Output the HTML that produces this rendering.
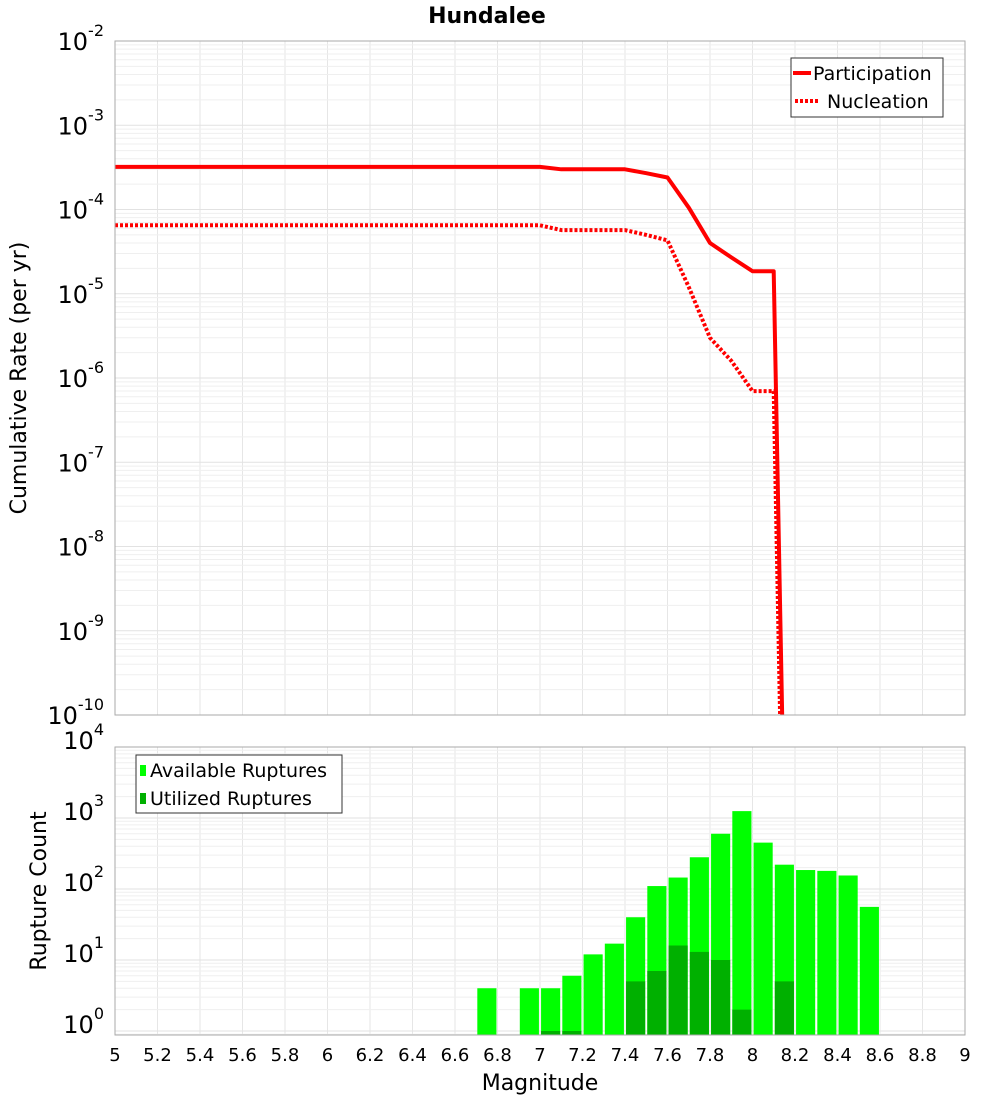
<!DOCTYPE html>
<html><head><meta charset="utf-8"><style>
html,body{margin:0;padding:0;background:#fff;width:1000px;height:1100px;overflow:hidden;}
svg{display:block;font-family:"DejaVu Sans","Liberation Sans",sans-serif;}
</style></head><body>
<svg id="chart" width="1000" height="1100" viewBox="0 0 1000 1100" xmlns="http://www.w3.org/2000/svg">
<text x="487" y="23" text-anchor="middle" font-size="22" font-weight="bold">Hundalee</text>
<g id="topg"></g>
<g id="botg"></g>
</svg>
<script>
const mags = [5.0,5.1,5.2,5.3,5.4,5.5,5.6,5.7,5.8,5.9,6.0,6.1,6.2,6.3,6.4,6.5,6.6,6.7,6.8,6.9,7.0,7.1,7.2,7.3,7.4,7.5,7.6,7.7,7.8,7.9,8.0,8.1,8.2];
const participation = [3.2e-4,3.2e-4,3.2e-4,3.2e-4,3.2e-4,3.2e-4,3.2e-4,3.2e-4,3.2e-4,3.2e-4,3.2e-4,3.2e-4,3.2e-4,3.2e-4,3.2e-4,3.2e-4,3.2e-4,3.2e-4,3.2e-4,3.2e-4,3.2e-4,3.0e-4,3.0e-4,3.0e-4,3.0e-4,2.7e-4,2.4e-4,1.05e-4,4.0e-5,2.7e-5,1.85e-5,1.85e-5,1e-18];
const nucleation = [6.5e-5,6.5e-5,6.5e-5,6.5e-5,6.5e-5,6.5e-5,6.5e-5,6.5e-5,6.5e-5,6.5e-5,6.5e-5,6.5e-5,6.5e-5,6.5e-5,6.5e-5,6.5e-5,6.5e-5,6.5e-5,6.5e-5,6.5e-5,6.5e-5,5.7e-5,5.7e-5,5.7e-5,5.7e-5,5.0e-5,4.3e-5,1.2e-5,3.0e-6,1.6e-6,7.0e-7,7.0e-7,1e-19];
const binCenters = [6.75,6.95,7.05,7.15,7.25,7.35,7.45,7.55,7.65,7.75,7.85,7.95,8.05,8.15,8.25,8.35,8.45,8.55];
const available = [4,4,4,6,12,17,40,110,145,280,600,1250,450,220,185,180,155,56];
const utilized = [0,0,1,1,0,0,5,7,16,13,10,2,0,5,0,0,0,0];
const xTicks = [5,5.2,5.4,5.6,5.8,6,6.2,6.4,6.6,6.8,7,7.2,7.4,7.6,7.8,8,8.2,8.4,8.6,8.8,9];
const topExps = [-2,-3,-4,-5,-6,-7,-8,-9,-10];
const botExps = [4,3,2,1,0];

const NS="http://www.w3.org/2000/svg";
function mk(parent,tag,attrs,text){const e=document.createElementNS(NS,tag);for(const k in attrs)e.setAttribute(k,attrs[k]);if(text!==undefined)e.textContent=text;parent.appendChild(e);return e;}
const L=115,R=965;
const xs=m=>L+(m-5)/4*(R-L);
const T1=41,B1=715;
const yTop=v=>T1+(-2-Math.log10(v))*(B1-T1)/8;
const T2=747,B2=1035,Y0=1031,DEC=71;
const yBot=v=>Y0-Math.log10(v)*DEC;

const topG=document.getElementById('topg'), botG=document.getElementById('botg');
const defs=mk(document.getElementById('chart'),'defs',{});
const cp=mk(defs,'clipPath',{id:'c1'});mk(cp,'rect',{x:L,y:T1,width:R-L,height:B1-T1});

function grid(g,T,B,yfun,decs){
  for(const t of xTicks){const l=mk(g,'line',{x1:xs(t),x2:xs(t),y1:T,y2:B,stroke:'#e6e6e6','stroke-width':1});
    
    }
  for(const d of decs){for(let k=1;k<10;k++){const y=yfun(k*Math.pow(10,d));if(y<T||y>B)continue;
    const l=mk(g,'line',{x1:L,x2:R,y1:y,y2:y,stroke:k==1?'#e2e2e2':'#efefef','stroke-width':1});
    
    }}
}
grid(topG,T1,B1,yTop,[-10,-9,-8,-7,-6,-5,-4,-3,-2]);
const lines=mk(topG,'g',{'clip-path':'url(#c1)'});
function poly(arr,dash,name){const pts=mags.map((m,i)=>xs(m).toFixed(1)+','+yTop(arr[i]).toFixed(1)).join(' ');
  const p=mk(lines,'polyline',{points:pts,fill:'none',stroke:'#ff0000','stroke-width':4,'stroke-linejoin':'round'});
  if(dash)p.setAttribute('stroke-dasharray',dash);
  
  }
poly(nucleation,'3 2','nucleation-line');
poly(participation,null,'participation-line');
mk(topG,'rect',{x:L,y:T1,width:R-L,height:B1-T1,fill:'none',stroke:'#aaa','stroke-width':1});
for(const e of topExps){const y=yTop(Math.pow(10,e));
  const t=mk(topG,'text',{x:104,y:y+9,'text-anchor':'end','font-size':24});
  
  
  mk(t,'tspan',{},'10');mk(t,'tspan',{dy:-14,'font-size':16},String(e));}
const yt=mk(topG,'text',{transform:'translate(26,378) rotate(-90)','text-anchor':'middle','font-size':22},'Cumulative Rate (per yr)');


const lg=mk(topG,'g',{});


mk(lg,'rect',{x:791,y:58,width:152,height:59,fill:'#fff',stroke:'#333','stroke-width':1});
mk(lg,'line',{x1:793,x2:811,y1:73,y2:73,stroke:'#f00','stroke-width':4});
mk(lg,'text',{x:813,y:80,'font-size':19},'Participation');
mk(lg,'line',{x1:795,x2:820,y1:101,y2:101,stroke:'#f00','stroke-width':4,'stroke-dasharray':'3 2'});
mk(lg,'text',{x:827,y:108,'font-size':19},'Nucleation');

grid(botG,T2,B2,yBot,[-1,0,1,2,3]);
const bw=(xs(0.1)-xs(0))*0.9;
binCenters.forEach((c,i)=>{
  const y=yBot(available[i]);
  const r=mk(botG,'rect',{x:xs(c)-bw/2,y:y,width:bw,height:B2-y,fill:'#00ff00'});
  
  
  if(utilized[i]>0){const y2=yBot(utilized[i]);
    const u=mk(botG,'rect',{x:xs(c)-bw/2,y:y2,width:bw,height:B2-y2,fill:'#00b000'});
    
    }
});
mk(botG,'rect',{x:L,y:T2,width:R-L,height:B2-T2,fill:'none',stroke:'#aaa','stroke-width':1});
for(const e of botExps){const y=yBot(Math.pow(10,e));
  const t=mk(botG,'text',{x:104,y:y+2,'text-anchor':'end','font-size':24});
  
  
  mk(t,'tspan',{},'10');mk(t,'tspan',{dy:-14,'font-size':16},String(e));}
for(const t of xTicks){const x=mk(botG,'text',{x:xs(t),y:1061,'text-anchor':'middle','font-size':18},String(t));
  
  }
const xt=mk(botG,'text',{x:540,y:1090,'text-anchor':'middle','font-size':22},'Magnitude');


const yt2=mk(botG,'text',{transform:'translate(46,891) rotate(-90)','text-anchor':'middle','font-size':22},'Rupture Count');


const lg2=mk(botG,'g',{});


mk(lg2,'rect',{x:136,y:755,width:206,height:58,fill:'#fff',stroke:'#333','stroke-width':1});
mk(lg2,'rect',{x:140,y:765,width:6,height:11,fill:'#00ff00'});
mk(lg2,'text',{x:150,y:777,'font-size':19},'Available Ruptures');
mk(lg2,'rect',{x:140,y:793,width:6,height:11,fill:'#00b000'});
mk(lg2,'text',{x:150,y:805,'font-size':19},'Utilized Ruptures');
</script>
</body></html>
